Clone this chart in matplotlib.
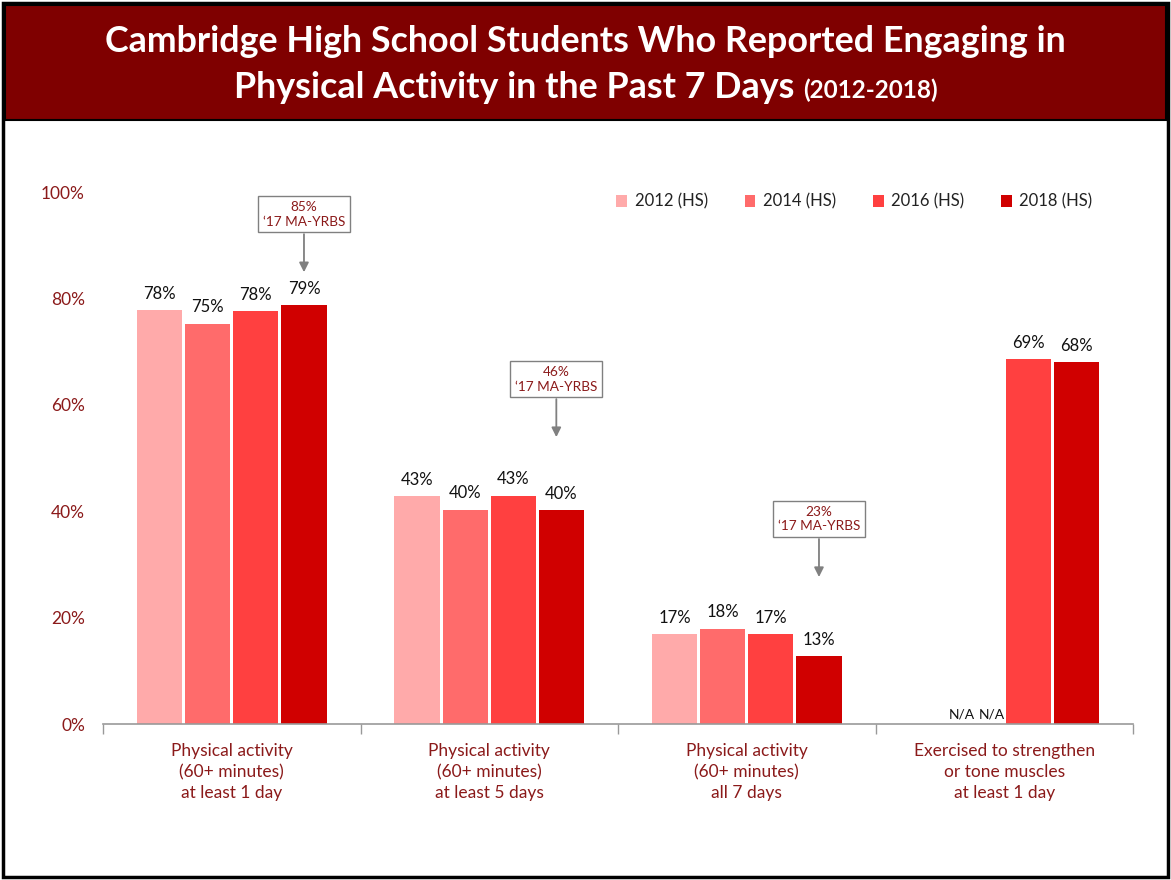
import matplotlib.pyplot as plt
from matplotlib.patches import Rectangle
import numpy as np

plt.rcParams['font.family'] = ['Lato', 'DejaVu Sans']

# data
categories = ['Physical activity\n(60+ minutes)\nat least 1 day',
              'Physical activity\n(60+ minutes)\nat least 5 days',
              'Physical activity\n(60+ minutes)\nall 7 days',
              'Exercised to strengthen\nor tone muscles\nat least 1 day']
years = ['2012 (HS)', '2014 (HS)', '2016 (HS)', '2018 (HS)']
v2012 = [77.8, 42.8, 16.9, np.nan]
v2014 = [75.2, 40.3, 17.9, np.nan]
v2016 = [77.6, 42.9, 16.9, 68.6]
v2018 = [78.7, 40.2, 12.7, 68.0]
ma_yrbs = [85, 46, 23]
colors = ['#FFAAAA', '#FF6B6B', '#FF4040', '#D00000']

dark_red = '#8B1A1A'

fig = plt.figure(figsize=(11.71, 8.8), dpi=100)
ax = fig.add_axes([103 / 1171, 1 - 724 / 880, 1030 / 1171, 532 / 880])

x = np.arange(len(categories))
width = 0.175
step = 0.187
na_shift = [0.115, 0.045, 0, 0]
series = [v2012, v2014, v2016, v2018]
for i, (vals, col, yr) in enumerate(zip(series, colors, years)):
    pos = x + (i - 1.5) * step
    ax.bar(pos, vals, width, color=col, label=yr)
    for p, v in zip(pos, vals):
        if np.isnan(v):
            ax.text(p + na_shift[i], 0.7, 'N/A', ha='center', va='bottom', fontsize=10,
                    color='#111111')
        else:
            ax.text(p, v + 1.6, f'{round(v):.0f}%', ha='center', va='bottom', fontsize=12,
                    color='#111111')

# '17 MA-YRBS callouts with arrows
box_y = [95.8, 64.8, 38.5]
tip_y = [84.4, 53.4, 27.1]
shift = [0.0, -0.02, 0.0]
for k, (val, by, ty) in enumerate(zip(ma_yrbs, box_y, tip_y)):
    xp = x[k] + 1.5 * step + shift[k]
    ax.annotate('', xy=(xp, ty), xytext=(xp, by - 3.2),
                arrowprops=dict(arrowstyle='-|>', color='#808080', lw=1.3, mutation_scale=14))
    ax.text(xp, by, f'{val}%\n\u201817 MA-YRBS', ha='center', va='center', fontsize=9.8,
            color=dark_red, linespacing=1.25,
            bbox=dict(boxstyle='square,pad=0.35', fc='white', ec='#808080', lw=1))

ax.set_xlim(-0.5, 3.5)
ax.set_ylim(0, 100)
ax.set_yticks(np.arange(0, 101, 20))
ax.set_yticklabels([f'{t}%' for t in range(0, 101, 20)])
ax.tick_params(axis='y', length=0, pad=13, labelsize=12.5, labelcolor=dark_red)
ax.set_xticks(x)
ax.set_xticklabels(categories, fontsize=12.5, color=dark_red, linespacing=1.35)
ax.tick_params(axis='x', which='major', length=0, pad=14)
ax.set_xticks(np.arange(-0.5, 4, 1), minor=True)
ax.tick_params(axis='x', which='minor', length=7, color='#999999', width=1)
for s in ['top', 'right', 'left']:
    ax.spines[s].set_visible(False)
ax.spines['bottom'].set_color('#999999')
ax.spines['bottom'].set_linewidth(1.2)

ax.legend(ncol=4, loc='upper right', bbox_to_anchor=(0.975, 1.025), frameon=False,
          fontsize=12, handlelength=0.65, handleheight=0.65, handletextpad=0.45,
          columnspacing=2.2, labelcolor='#222222')

# title banner and frame
fig.patches.append(Rectangle((5 / 1171, 1 - 120 / 880), 1161 / 1171, 115 / 880,
                             transform=fig.transFigure, fc='#7F0000', ec='black', lw=1.5))
fig.patches.append(Rectangle((3 / 1171, 3 / 880), 1165 / 1171, 874 / 880,
                             transform=fig.transFigure, fill=False, ec='black', lw=2.5))

fig.text(0.5, 1 - 42 / 880, 'Cambridge High School Students Who Reported Engaging in',
         ha='center', va='center', color='white', fontsize=25.8, fontweight='bold')
t1 = fig.text(0, 1 - 88 / 880, 'Physical Activity in the Past 7 Days ',
              ha='left', va='center', color='white', fontsize=25.8, fontweight='bold')
t2 = fig.text(0, 1 - 88 / 880, '(2012-2018)', ha='left', va='center', color='white',
              fontsize=17.5, fontweight='bold')
fig.canvas.draw()
r = fig.canvas.get_renderer()
w1 = t1.get_window_extent(r).width / fig.bbox.width
w2 = t2.get_window_extent(r).width / fig.bbox.width
start = 0.5 - (w1 + w2) / 2
t1.set_x(start)
t2.set_x(start + w1)
t2.set_y(1 - 90 / 880)

fig.savefig('out.png', dpi=100)
